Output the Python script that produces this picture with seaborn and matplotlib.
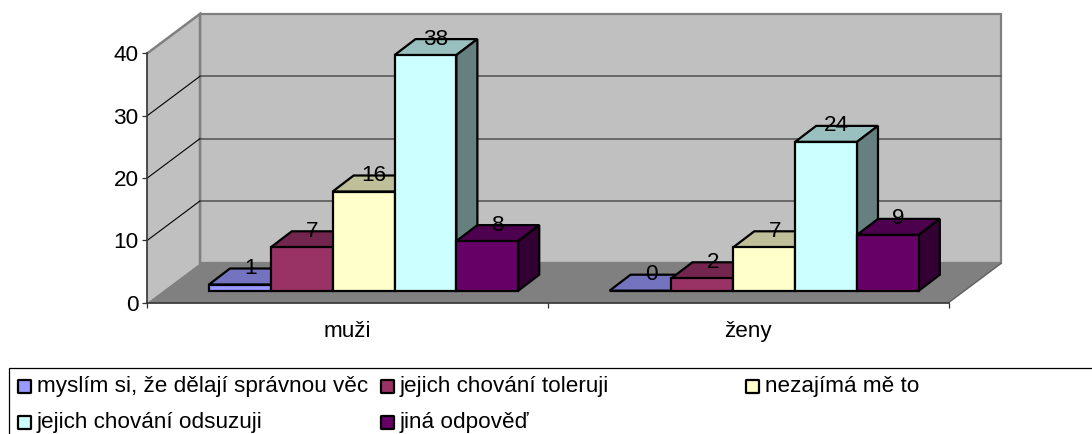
import matplotlib
matplotlib.use("Agg")
import matplotlib.pyplot as plt
import seaborn as sns
import pandas as pd
from matplotlib.patches import Polygon, Rectangle, FancyBboxPatch

categories = ["muži", "ženy"]
answers = ["myslím si, že dělají správnou věc", "jejich chování toleruji",
           "nezajímá mě to", "jejich chování odsuzuji", "jiná odpověď"]
values_muzi = [1, 7, 16, 38, 8]
values_zeny = [0, 2, 7, 24, 9]
colors = ["#9999FF", "#993366", "#FFFFCC", "#CCFFFF", "#660066"]
y_ticks = [0, 10, 20, 30, 40]

W, H = 1092, 434
FS = 16.2
sns.set_theme(style="white")
plt.rcParams["font.family"] = ["Liberation Sans", "DejaVu Sans"]

df = pd.DataFrame({
    "skupina": [categories[0]] * 5 + [categories[1]] * 5,
    "odpoved": answers * 2,
    "pocet": values_muzi + values_zeny,
})

fig = plt.figure(figsize=(W / 100, H / 100), dpi=100, facecolor="white")
L, R, T, B = 147.3, 948.5, 53.3, 302.7
ax = fig.add_axes([L / W, 1 - B / H, (R - L) / W, (B - T) / H])
ax.patch.set_alpha(0)

lw = 1.6
sns.barplot(data=df, x="skupina", y="pocet", hue="odpoved", order=categories,
            hue_order=answers, palette=colors, saturation=1, width=0.772, gap=0,
            edgecolor="black", linewidth=lw, legend=False, ax=ax)
ax.set_xlim(-0.5, 1.5)
ax.set_ylim(0, 40)
ax.set_xlabel("")
ax.set_ylabel("")

sx = (R - L) / 2          # px per category unit
sy = (B - T) / 40         # px per value unit
px = lambda v: v / sx
py = lambda v: v / sy

# box: walls and floor
bx, by = px(52.7), py(39.4)
x0, x1 = -0.5, 1.5
wall_edge = "#808080"
def poly(pts, face, edge="none", lw=0, z=1):
    ax.add_patch(Polygon(pts, closed=True, facecolor=face, edgecolor=edge, linewidth=lw,
                         clip_on=False, zorder=z, joinstyle="miter"))
poly([(x0 + bx, by), (x1 + bx, by), (x1 + bx, 40 + by), (x0 + bx, 40 + by)], "#C0C0C0", wall_edge, 1.6, 0.5)
poly([(x0, 0), (x0 + bx, by), (x0 + bx, 40 + by), (x0, 40)], "#C0C0C0", "none", 0, 0.6)
poly([(x0, 0), (x1, 0), (x1 + bx, by), (x0 + bx, by)], "#808080", "none", 0, 0.7)
ax.plot([x0, x0 + bx, x0 + bx], [40, 40 + by, by], color=wall_edge, lw=1.8, clip_on=False, zorder=0.8,
        solid_joinstyle="miter")
ax.plot([x1, x1 + bx], [0, by], color="#606060", lw=1.0, clip_on=False, zorder=0.8)
for v in y_ticks[1:4]:
    ax.plot([x0 + bx, x1 + bx], [v + by, v + by], color="#505050", lw=1.1, clip_on=False, zorder=0.9)
    ax.plot([x0, x0 + bx], [v, v + by], color="black", lw=0.8, clip_on=False, zorder=0.9)

# axes and ticks
sns.despine(ax=ax, top=True, right=True)
for s in ("left", "bottom"):
    ax.spines[s].set_color("#303030")
    ax.spines[s].set_linewidth(1.2)
ax.set_yticks(y_ticks)
ax.tick_params(axis="y", left=True, length=3.6, width=0.9, color="#303030", pad=2.5, labelsize=FS, labelcolor="black")
ax.set_xticks([0, 1], categories)
ax.set_xticks([-0.5, 0.5, 1.5], minor=True)
ax.tick_params(axis="x", which="major", length=0, pad=13, labelsize=FS, labelcolor="black")
ax.tick_params(axis="x", which="minor", bottom=True, length=3.6, width=0.9, color="#303030")

# bars: shift into the box and add depth faces
shx, shy = px(16.0), py(12.0)
dx, dy = px(21.0), py(16.0)
persp = 6.2 / sy
def dark(c, f):
    r, g, b = matplotlib.colors.to_rgb(c)
    return (r * f, g * f, b * f)

for i, cont in enumerate(ax.containers):
    for bar in cont.patches:
        v = bar.get_height()
        h = v * persp
        x = bar.get_x() + shx
        w = bar.get_width()
        bar.set_x(x)
        bar.set_y(shy)
        bar.set_height(h)
        bar.set_clip_on(False)
        bar.set_zorder(4 + 2 * i)
        bar.set_joinstyle("miter")
        ytop = shy + h
        poly([(x, ytop), (x + w, ytop), (x + w + dx, ytop + dy), (x + dx, ytop + dy)],
             dark(colors[i], 0.75), "black", lw, 3 + 2 * i)
        poly([(x + w, shy), (x + w + dx, shy + dy), (x + w + dx, ytop + dy), (x + w, ytop)],
             dark(colors[i], 0.5), "black", lw, 3 + 2 * i)
        ax.text(x + w / 2 + dx / 2, ytop + dy, f"{int(v)}", ha="center", va="center",
                fontsize=FS, color="black", zorder=30, clip_on=False)

# legend box, positioned in pixels
def fx(p): return p / W
def fy(p): return 1 - p / H
fig.add_artist(Rectangle((fx(9), fy(440)), (1100 - 9) / W, (440 - 368) / H, transform=fig.transFigure,
                         facecolor="white", edgecolor="black", linewidth=0.9, clip_on=False))
col_x = [17, 380, 745, 17, 380]
row_y = [386.5, 386.5, 386.5, 422.5, 422.5]
for name, c, mx, my in zip(answers, colors, col_x, row_y):
    fig.add_artist(FancyBboxPatch((fx(mx + 1), fy(my + 6.5)), 13 / W, 13 / H, boxstyle="round,pad=0,rounding_size=0.001",
                                  transform=fig.transFigure, facecolor=c, edgecolor="black", linewidth=1.6))
    fig.text(fx(mx + 20), fy(my), name, ha="left", va="center", fontsize=FS, color="black")

fig.savefig("out.png", dpi=100)
